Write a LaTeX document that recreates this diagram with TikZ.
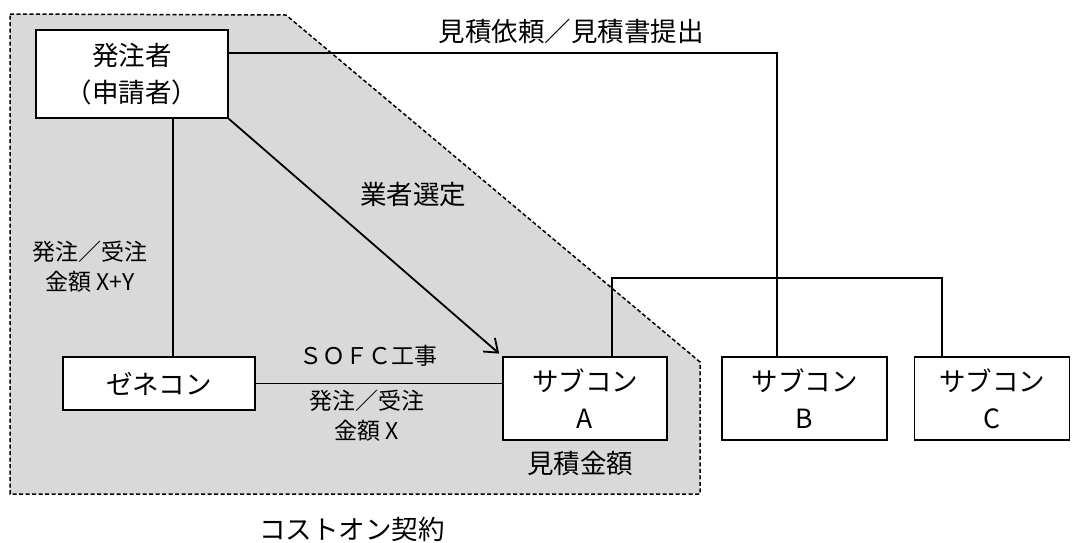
\documentclass[tikz,border=0pt]{standalone}
\usepackage{fontspec}
\setmainfont{Noto Sans CJK JP}
\usetikzlibrary{arrows.meta}
\definecolor{regiongray}{RGB}{217,217,217}
\begin{document}
\begin{tikzpicture}[x=1pt,y=-1pt,
  box/.style={draw, fill=white, line width=1.6pt, inner sep=0pt, align=center,
    font=\fontsize{26.5}{37}\selectfont},
  lbl/.style={inner sep=0pt, align=center, font=\fontsize{26.5}{30}\selectfont},
  smalllbl/.style={inner sep=0pt, align=center, font=\fontsize{23}{30}\selectfont},
  conn/.style={line width=1.8pt},
  region/.style={draw, fill=regiongray, line width=1.5pt, dash pattern=on 4pt off 2.5pt}]
\useasboundingbox (0,0) rectangle (1072,542);

% grey cost-on region
\draw[region] (10,14) -- (286,15) -- (700,362) -- (700,494) -- (10,494) -- cycle;

% boxes
\node[box, minimum width=192pt, minimum height=88pt] (hc) at (132,74) {発注者\\（申請者）};
\node[box, minimum width=192pt, minimum height=53pt] (zk) at (159,383.5) {ゼネコン};
\node[box, minimum width=164pt, minimum height=83pt] (sA) at (585,398.5) {サブコン\\A};
\node[box, minimum width=165pt, minimum height=83pt] (sB) at (804.5,398.5) {サブコン\\B};
\node[box, minimum width=155pt, minimum height=83pt] (sC) at (992,398.5) {サブコン\\C};

% helper coordinates
\coordinate (p1) at (777,53);
\coordinate (p2) at (612,278);
\coordinate (p3) at (942,278);
\coordinate (p4) at (173,0);

% connectors
\draw[conn] (hc.east |- p1) -- (p1) -- (p1 |- sB.north);
\draw[conn] (p2 |- sA.north) -- (p2) -- (p3) -- (p3 |- sC.north);
\draw[conn] (p4 |- hc.south) -- (p4 |- zk.north);
\draw[conn] (zk.east) -- (zk.east -| sA.west);
\draw[conn, -{Straight Barb[length=12pt,width=18pt,line width=1.8pt]}, shorten >=4pt]
  (hc.south east) -- (sA.north west);

% labels
\node[lbl] (t1) at (571,31) {見積依頼／見積書提出};
\node[lbl] (t2) at (413,194) {業者選定};
\node[smalllbl] (t3) at (90,267) {発注／受注\\金額 X+Y};
\node[smalllbl] (t4) at (368,356) {ＳＯＦＣ工事};
\node[smalllbl] (t5) at (367,416) {発注／受注\\金額 X};
\node[lbl] (t6) at (580,463) {見積金額};
\node[lbl] (t7) at (352,529) {コストオン契約};
\end{tikzpicture}
\end{document}
